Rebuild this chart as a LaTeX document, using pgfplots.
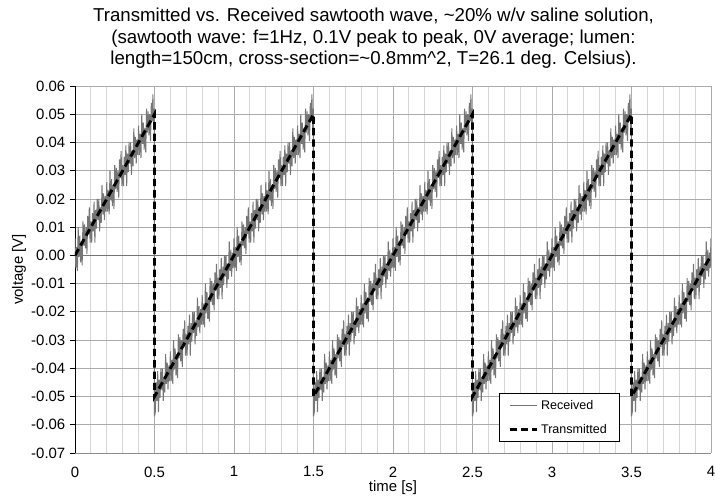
\documentclass[border=0pt]{standalone}
\usepackage{fontspec}
\setmainfont{Liberation Sans}
\usepackage{pgfplots}
\usepackage{pgfplotstable}
\pgfplotsset{compat=1.18}
\definecolor{rcv}{RGB}{118,118,118}
\pgfplotstableread[row sep=\\]{
t y\\
0 0.006\\ 0.005 -0.0045\\ 0.01 0.003\\ 0.015 -0.0055\\ 0.02 0.01\\ 0.025 -0.0005\\ 0.03 0.007\\ 0.035 -0.0025\\ 0.04 0.005\\ 0.045 -0.0035\\
0.05 0.012\\ 0.055 0.0035\\ 0.06 0.011\\ 0.065 0.0025\\ 0.07 0.01\\ 0.075 0.0005\\ 0.08 0.014\\ 0.085 0.0075\\ 0.09 0.017\\ 0.095 0.0045\\
0.1 0.012\\ 0.105 0.0045\\ 0.11 0.015\\ 0.115 0.0085\\ 0.12 0.019\\ 0.125 0.0045\\ 0.13 0.016\\ 0.135 0.0095\\ 0.14 0.02\\ 0.145 0.0125\\
0.15 0.02\\ 0.155 0.0085\\ 0.16 0.017\\ 0.165 0.0115\\ 0.17 0.025\\ 0.175 0.0145\\ 0.18 0.022\\ 0.185 0.0125\\ 0.19 0.021\\ 0.195 0.0155\\
0.2 0.026\\ 0.205 0.0155\\ 0.21 0.023\\ 0.215 0.0145\\ 0.22 0.03\\ 0.225 0.0195\\ 0.23 0.027\\ 0.235 0.0175\\ 0.24 0.025\\ 0.245 0.0165\\
0.25 0.032\\ 0.255 0.0235\\ 0.26 0.031\\ 0.265 0.0225\\ 0.27 0.03\\ 0.275 0.0205\\ 0.28 0.034\\ 0.285 0.0275\\ 0.29 0.037\\ 0.295 0.0245\\
0.3 0.032\\ 0.305 0.0245\\ 0.31 0.035\\ 0.315 0.0285\\ 0.32 0.039\\ 0.325 0.0245\\ 0.33 0.036\\ 0.335 0.0295\\ 0.34 0.04\\ 0.345 0.0325\\
0.35 0.04\\ 0.355 0.0285\\ 0.36 0.037\\ 0.365 0.0315\\ 0.37 0.045\\ 0.375 0.0345\\ 0.38 0.042\\ 0.385 0.0325\\ 0.39 0.041\\ 0.395 0.0355\\
0.4 0.046\\ 0.405 0.0355\\ 0.41 0.043\\ 0.415 0.0345\\ 0.42 0.05\\ 0.425 0.0395\\ 0.43 0.047\\ 0.435 0.0375\\ 0.44 0.045\\ 0.445 0.0365\\
0.45 0.052\\ 0.455 0.0435\\ 0.46 0.051\\ 0.465 0.0425\\ 0.47 0.05\\ 0.475 0.0405\\ 0.48 0.054\\ 0.485 0.0475\\ 0.49 0.057\\ 0.495 0.0445\\
0.5 0.052\\ 0.5 -0.057\\
0.505 -0.0555\\ 0.51 -0.045\\ 0.515 -0.0515\\ 0.52 -0.041\\ 0.525 -0.0555\\ 0.53 -0.044\\ 0.535 -0.0505\\ 0.54 -0.04\\ 0.545 -0.0475\\
0.55 -0.04\\ 0.555 -0.0515\\ 0.56 -0.043\\ 0.565 -0.0485\\ 0.57 -0.035\\ 0.575 -0.0455\\ 0.58 -0.038\\ 0.585 -0.0475\\ 0.59 -0.039\\ 0.595 -0.0445\\
0.6 -0.034\\ 0.605 -0.0445\\ 0.61 -0.037\\ 0.615 -0.0455\\ 0.62 -0.03\\ 0.625 -0.0405\\ 0.63 -0.033\\ 0.635 -0.0425\\ 0.64 -0.035\\ 0.645 -0.0435\\
0.65 -0.028\\ 0.655 -0.0365\\ 0.66 -0.029\\ 0.665 -0.0375\\ 0.67 -0.03\\ 0.675 -0.0395\\ 0.68 -0.026\\ 0.685 -0.0325\\ 0.69 -0.023\\ 0.695 -0.0355\\
0.7 -0.028\\ 0.705 -0.0355\\ 0.71 -0.025\\ 0.715 -0.0315\\ 0.72 -0.021\\ 0.725 -0.0355\\ 0.73 -0.024\\ 0.735 -0.0305\\ 0.74 -0.02\\ 0.745 -0.0275\\
0.75 -0.02\\ 0.755 -0.0315\\ 0.76 -0.023\\ 0.765 -0.0285\\ 0.77 -0.015\\ 0.775 -0.0255\\ 0.78 -0.018\\ 0.785 -0.0275\\ 0.79 -0.019\\ 0.795 -0.0245\\
0.8 -0.014\\ 0.805 -0.0245\\ 0.81 -0.017\\ 0.815 -0.0255\\ 0.82 -0.01\\ 0.825 -0.0205\\ 0.83 -0.013\\ 0.835 -0.0225\\ 0.84 -0.015\\ 0.845 -0.0235\\
0.85 -0.008\\ 0.855 -0.0165\\ 0.86 -0.009\\ 0.865 -0.0175\\ 0.87 -0.01\\ 0.875 -0.0195\\ 0.88 -0.006\\ 0.885 -0.0125\\ 0.89 -0.003\\ 0.895 -0.0155\\
0.9 -0.008\\ 0.905 -0.0155\\ 0.91 -0.005\\ 0.915 -0.0115\\ 0.92 -0.001\\ 0.925 -0.0155\\ 0.93 -0.004\\ 0.935 -0.0105\\ 0.94 0\\ 0.945 -0.0075\\
0.95 0\\ 0.955 -0.0115\\ 0.96 -0.003\\ 0.965 -0.0085\\ 0.97 0.005\\ 0.975 -0.0055\\ 0.98 0.002\\ 0.985 -0.0075\\ 0.99 0.001\\ 0.995 -0.0045\\
1 0.006\\ 1.005 -0.0045\\ 1.01 0.003\\ 1.015 -0.0055\\ 1.02 0.01\\ 1.025 -0.0005\\ 1.03 0.007\\ 1.035 -0.0025\\ 1.04 0.005\\ 1.045 -0.0035\\
1.05 0.012\\ 1.055 0.0035\\ 1.06 0.011\\ 1.065 0.0025\\ 1.07 0.01\\ 1.075 0.0005\\ 1.08 0.014\\ 1.085 0.0075\\ 1.09 0.017\\ 1.095 0.0045\\
1.1 0.012\\ 1.105 0.0045\\ 1.11 0.015\\ 1.115 0.0085\\ 1.12 0.019\\ 1.125 0.0045\\ 1.13 0.016\\ 1.135 0.0095\\ 1.14 0.02\\ 1.145 0.0125\\
1.15 0.02\\ 1.155 0.0085\\ 1.16 0.017\\ 1.165 0.0115\\ 1.17 0.025\\ 1.175 0.0145\\ 1.18 0.022\\ 1.185 0.0125\\ 1.19 0.021\\ 1.195 0.0155\\
1.2 0.026\\ 1.205 0.0155\\ 1.21 0.023\\ 1.215 0.0145\\ 1.22 0.03\\ 1.225 0.0195\\ 1.23 0.027\\ 1.235 0.0175\\ 1.24 0.025\\ 1.245 0.0165\\
1.25 0.032\\ 1.255 0.0235\\ 1.26 0.031\\ 1.265 0.0225\\ 1.27 0.03\\ 1.275 0.0205\\ 1.28 0.034\\ 1.285 0.0275\\ 1.29 0.037\\ 1.295 0.0245\\
1.3 0.032\\ 1.305 0.0245\\ 1.31 0.035\\ 1.315 0.0285\\ 1.32 0.039\\ 1.325 0.0245\\ 1.33 0.036\\ 1.335 0.0295\\ 1.34 0.04\\ 1.345 0.0325\\
1.35 0.04\\ 1.355 0.0285\\ 1.36 0.037\\ 1.365 0.0315\\ 1.37 0.045\\ 1.375 0.0345\\ 1.38 0.042\\ 1.385 0.0325\\ 1.39 0.041\\ 1.395 0.0355\\
1.4 0.046\\ 1.405 0.0355\\ 1.41 0.043\\ 1.415 0.0345\\ 1.42 0.05\\ 1.425 0.0395\\ 1.43 0.047\\ 1.435 0.0375\\ 1.44 0.045\\ 1.445 0.0365\\
1.45 0.052\\ 1.455 0.0435\\ 1.46 0.051\\ 1.465 0.0425\\ 1.47 0.05\\ 1.475 0.0405\\ 1.48 0.054\\ 1.485 0.0475\\ 1.49 0.057\\ 1.495 0.0445\\
1.5 0.052\\ 1.5 -0.057\\
1.505 -0.0555\\ 1.51 -0.045\\ 1.515 -0.0515\\ 1.52 -0.041\\ 1.525 -0.0555\\ 1.53 -0.044\\ 1.535 -0.0505\\ 1.54 -0.04\\ 1.545 -0.0475\\
1.55 -0.04\\ 1.555 -0.0515\\ 1.56 -0.043\\ 1.565 -0.0485\\ 1.57 -0.035\\ 1.575 -0.0455\\ 1.58 -0.038\\ 1.585 -0.0475\\ 1.59 -0.039\\ 1.595 -0.0445\\
1.6 -0.034\\ 1.605 -0.0445\\ 1.61 -0.037\\ 1.615 -0.0455\\ 1.62 -0.03\\ 1.625 -0.0405\\ 1.63 -0.033\\ 1.635 -0.0425\\ 1.64 -0.035\\ 1.645 -0.0435\\
1.65 -0.028\\ 1.655 -0.0365\\ 1.66 -0.029\\ 1.665 -0.0375\\ 1.67 -0.03\\ 1.675 -0.0395\\ 1.68 -0.026\\ 1.685 -0.0325\\ 1.69 -0.023\\ 1.695 -0.0355\\
1.7 -0.028\\ 1.705 -0.0355\\ 1.71 -0.025\\ 1.715 -0.0315\\ 1.72 -0.021\\ 1.725 -0.0355\\ 1.73 -0.024\\ 1.735 -0.0305\\ 1.74 -0.02\\ 1.745 -0.0275\\
1.75 -0.02\\ 1.755 -0.0315\\ 1.76 -0.023\\ 1.765 -0.0285\\ 1.77 -0.015\\ 1.775 -0.0255\\ 1.78 -0.018\\ 1.785 -0.0275\\ 1.79 -0.019\\ 1.795 -0.0245\\
1.8 -0.014\\ 1.805 -0.0245\\ 1.81 -0.017\\ 1.815 -0.0255\\ 1.82 -0.01\\ 1.825 -0.0205\\ 1.83 -0.013\\ 1.835 -0.0225\\ 1.84 -0.015\\ 1.845 -0.0235\\
1.85 -0.008\\ 1.855 -0.0165\\ 1.86 -0.009\\ 1.865 -0.0175\\ 1.87 -0.01\\ 1.875 -0.0195\\ 1.88 -0.006\\ 1.885 -0.0125\\ 1.89 -0.003\\ 1.895 -0.0155\\
1.9 -0.008\\ 1.905 -0.0155\\ 1.91 -0.005\\ 1.915 -0.0115\\ 1.92 -0.001\\ 1.925 -0.0155\\ 1.93 -0.004\\ 1.935 -0.0105\\ 1.94 0\\ 1.945 -0.0075\\
1.95 0\\ 1.955 -0.0115\\ 1.96 -0.003\\ 1.965 -0.0085\\ 1.97 0.005\\ 1.975 -0.0055\\ 1.98 0.002\\ 1.985 -0.0075\\ 1.99 0.001\\ 1.995 -0.0045\\
2 0.006\\ 2.005 -0.0045\\ 2.01 0.003\\ 2.015 -0.0055\\ 2.02 0.01\\ 2.025 -0.0005\\ 2.03 0.007\\ 2.035 -0.0025\\ 2.04 0.005\\ 2.045 -0.0035\\
2.05 0.012\\ 2.055 0.0035\\ 2.06 0.011\\ 2.065 0.0025\\ 2.07 0.01\\ 2.075 0.0005\\ 2.08 0.014\\ 2.085 0.0075\\ 2.09 0.017\\ 2.095 0.0045\\
2.1 0.012\\ 2.105 0.0045\\ 2.11 0.015\\ 2.115 0.0085\\ 2.12 0.019\\ 2.125 0.0045\\ 2.13 0.016\\ 2.135 0.0095\\ 2.14 0.02\\ 2.145 0.0125\\
2.15 0.02\\ 2.155 0.0085\\ 2.16 0.017\\ 2.165 0.0115\\ 2.17 0.025\\ 2.175 0.0145\\ 2.18 0.022\\ 2.185 0.0125\\ 2.19 0.021\\ 2.195 0.0155\\
2.2 0.026\\ 2.205 0.0155\\ 2.21 0.023\\ 2.215 0.0145\\ 2.22 0.03\\ 2.225 0.0195\\ 2.23 0.027\\ 2.235 0.0175\\ 2.24 0.025\\ 2.245 0.0165\\
2.25 0.032\\ 2.255 0.0235\\ 2.26 0.031\\ 2.265 0.0225\\ 2.27 0.03\\ 2.275 0.0205\\ 2.28 0.034\\ 2.285 0.0275\\ 2.29 0.037\\ 2.295 0.0245\\
2.3 0.032\\ 2.305 0.0245\\ 2.31 0.035\\ 2.315 0.0285\\ 2.32 0.039\\ 2.325 0.0245\\ 2.33 0.036\\ 2.335 0.0295\\ 2.34 0.04\\ 2.345 0.0325\\
2.35 0.04\\ 2.355 0.0285\\ 2.36 0.037\\ 2.365 0.0315\\ 2.37 0.045\\ 2.375 0.0345\\ 2.38 0.042\\ 2.385 0.0325\\ 2.39 0.041\\ 2.395 0.0355\\
2.4 0.046\\ 2.405 0.0355\\ 2.41 0.043\\ 2.415 0.0345\\ 2.42 0.05\\ 2.425 0.0395\\ 2.43 0.047\\ 2.435 0.0375\\ 2.44 0.045\\ 2.445 0.0365\\
2.45 0.052\\ 2.455 0.0435\\ 2.46 0.051\\ 2.465 0.0425\\ 2.47 0.05\\ 2.475 0.0405\\ 2.48 0.054\\ 2.485 0.0475\\ 2.49 0.057\\ 2.495 0.0445\\
2.5 0.052\\ 2.5 -0.057\\
2.505 -0.0555\\ 2.51 -0.045\\ 2.515 -0.0515\\ 2.52 -0.041\\ 2.525 -0.0555\\ 2.53 -0.044\\ 2.535 -0.0505\\ 2.54 -0.04\\ 2.545 -0.0475\\
2.55 -0.04\\ 2.555 -0.0515\\ 2.56 -0.043\\ 2.565 -0.0485\\ 2.57 -0.035\\ 2.575 -0.0455\\ 2.58 -0.038\\ 2.585 -0.0475\\ 2.59 -0.039\\ 2.595 -0.0445\\
2.6 -0.034\\ 2.605 -0.0445\\ 2.61 -0.037\\ 2.615 -0.0455\\ 2.62 -0.03\\ 2.625 -0.0405\\ 2.63 -0.033\\ 2.635 -0.0425\\ 2.64 -0.035\\ 2.645 -0.0435\\
2.65 -0.028\\ 2.655 -0.0365\\ 2.66 -0.029\\ 2.665 -0.0375\\ 2.67 -0.03\\ 2.675 -0.0395\\ 2.68 -0.026\\ 2.685 -0.0325\\ 2.69 -0.023\\ 2.695 -0.0355\\
2.7 -0.028\\ 2.705 -0.0355\\ 2.71 -0.025\\ 2.715 -0.0315\\ 2.72 -0.021\\ 2.725 -0.0355\\ 2.73 -0.024\\ 2.735 -0.0305\\ 2.74 -0.02\\ 2.745 -0.0275\\
2.75 -0.02\\ 2.755 -0.0315\\ 2.76 -0.023\\ 2.765 -0.0285\\ 2.77 -0.015\\ 2.775 -0.0255\\ 2.78 -0.018\\ 2.785 -0.0275\\ 2.79 -0.019\\ 2.795 -0.0245\\
2.8 -0.014\\ 2.805 -0.0245\\ 2.81 -0.017\\ 2.815 -0.0255\\ 2.82 -0.01\\ 2.825 -0.0205\\ 2.83 -0.013\\ 2.835 -0.0225\\ 2.84 -0.015\\ 2.845 -0.0235\\
2.85 -0.008\\ 2.855 -0.0165\\ 2.86 -0.009\\ 2.865 -0.0175\\ 2.87 -0.01\\ 2.875 -0.0195\\ 2.88 -0.006\\ 2.885 -0.0125\\ 2.89 -0.003\\ 2.895 -0.0155\\
2.9 -0.008\\ 2.905 -0.0155\\ 2.91 -0.005\\ 2.915 -0.0115\\ 2.92 -0.001\\ 2.925 -0.0155\\ 2.93 -0.004\\ 2.935 -0.0105\\ 2.94 0\\ 2.945 -0.0075\\
2.95 0\\ 2.955 -0.0115\\ 2.96 -0.003\\ 2.965 -0.0085\\ 2.97 0.005\\ 2.975 -0.0055\\ 2.98 0.002\\ 2.985 -0.0075\\ 2.99 0.001\\ 2.995 -0.0045\\
3 0.006\\ 3.005 -0.0045\\ 3.01 0.003\\ 3.015 -0.0055\\ 3.02 0.01\\ 3.025 -0.0005\\ 3.03 0.007\\ 3.035 -0.0025\\ 3.04 0.005\\ 3.045 -0.0035\\
3.05 0.012\\ 3.055 0.0035\\ 3.06 0.011\\ 3.065 0.0025\\ 3.07 0.01\\ 3.075 0.0005\\ 3.08 0.014\\ 3.085 0.0075\\ 3.09 0.017\\ 3.095 0.0045\\
3.1 0.012\\ 3.105 0.0045\\ 3.11 0.015\\ 3.115 0.0085\\ 3.12 0.019\\ 3.125 0.0045\\ 3.13 0.016\\ 3.135 0.0095\\ 3.14 0.02\\ 3.145 0.0125\\
3.15 0.02\\ 3.155 0.0085\\ 3.16 0.017\\ 3.165 0.0115\\ 3.17 0.025\\ 3.175 0.0145\\ 3.18 0.022\\ 3.185 0.0125\\ 3.19 0.021\\ 3.195 0.0155\\
3.2 0.026\\ 3.205 0.0155\\ 3.21 0.023\\ 3.215 0.0145\\ 3.22 0.03\\ 3.225 0.0195\\ 3.23 0.027\\ 3.235 0.0175\\ 3.24 0.025\\ 3.245 0.0165\\
3.25 0.032\\ 3.255 0.0235\\ 3.26 0.031\\ 3.265 0.0225\\ 3.27 0.03\\ 3.275 0.0205\\ 3.28 0.034\\ 3.285 0.0275\\ 3.29 0.037\\ 3.295 0.0245\\
3.3 0.032\\ 3.305 0.0245\\ 3.31 0.035\\ 3.315 0.0285\\ 3.32 0.039\\ 3.325 0.0245\\ 3.33 0.036\\ 3.335 0.0295\\ 3.34 0.04\\ 3.345 0.0325\\
3.35 0.04\\ 3.355 0.0285\\ 3.36 0.037\\ 3.365 0.0315\\ 3.37 0.045\\ 3.375 0.0345\\ 3.38 0.042\\ 3.385 0.0325\\ 3.39 0.041\\ 3.395 0.0355\\
3.4 0.046\\ 3.405 0.0355\\ 3.41 0.043\\ 3.415 0.0345\\ 3.42 0.05\\ 3.425 0.0395\\ 3.43 0.047\\ 3.435 0.0375\\ 3.44 0.045\\ 3.445 0.0365\\
3.45 0.052\\ 3.455 0.0435\\ 3.46 0.051\\ 3.465 0.0425\\ 3.47 0.05\\ 3.475 0.0405\\ 3.48 0.054\\ 3.485 0.0475\\ 3.49 0.057\\ 3.495 0.0445\\
3.5 0.052\\ 3.5 -0.057\\
3.505 -0.0555\\ 3.51 -0.045\\ 3.515 -0.0515\\ 3.52 -0.041\\ 3.525 -0.0555\\ 3.53 -0.044\\ 3.535 -0.0505\\ 3.54 -0.04\\ 3.545 -0.0475\\
3.55 -0.04\\ 3.555 -0.0515\\ 3.56 -0.043\\ 3.565 -0.0485\\ 3.57 -0.035\\ 3.575 -0.0455\\ 3.58 -0.038\\ 3.585 -0.0475\\ 3.59 -0.039\\ 3.595 -0.0445\\
3.6 -0.034\\ 3.605 -0.0445\\ 3.61 -0.037\\ 3.615 -0.0455\\ 3.62 -0.03\\ 3.625 -0.0405\\ 3.63 -0.033\\ 3.635 -0.0425\\ 3.64 -0.035\\ 3.645 -0.0435\\
3.65 -0.028\\ 3.655 -0.0365\\ 3.66 -0.029\\ 3.665 -0.0375\\ 3.67 -0.03\\ 3.675 -0.0395\\ 3.68 -0.026\\ 3.685 -0.0325\\ 3.69 -0.023\\ 3.695 -0.0355\\
3.7 -0.028\\ 3.705 -0.0355\\ 3.71 -0.025\\ 3.715 -0.0315\\ 3.72 -0.021\\ 3.725 -0.0355\\ 3.73 -0.024\\ 3.735 -0.0305\\ 3.74 -0.02\\ 3.745 -0.0275\\
3.75 -0.02\\ 3.755 -0.0315\\ 3.76 -0.023\\ 3.765 -0.0285\\ 3.77 -0.015\\ 3.775 -0.0255\\ 3.78 -0.018\\ 3.785 -0.0275\\ 3.79 -0.019\\ 3.795 -0.0245\\
3.8 -0.014\\ 3.805 -0.0245\\ 3.81 -0.017\\ 3.815 -0.0255\\ 3.82 -0.01\\ 3.825 -0.0205\\ 3.83 -0.013\\ 3.835 -0.0225\\ 3.84 -0.015\\ 3.845 -0.0235\\
3.85 -0.008\\ 3.855 -0.0165\\ 3.86 -0.009\\ 3.865 -0.0175\\ 3.87 -0.01\\ 3.875 -0.0195\\ 3.88 -0.006\\ 3.885 -0.0125\\ 3.89 -0.003\\ 3.895 -0.0155\\
3.9 -0.008\\ 3.905 -0.0155\\ 3.91 -0.005\\ 3.915 -0.0115\\ 3.92 -0.001\\ 3.925 -0.0155\\ 3.93 -0.004\\ 3.935 -0.0105\\ 3.94 0\\ 3.945 -0.0075\\
3.95 0\\ 3.955 -0.0115\\ 3.96 -0.003\\ 3.965 -0.0085\\ 3.97 0.005\\ 3.975 -0.0055\\ 3.98 0.002\\ 3.985 -0.0075\\ 3.99 0.001\\ 3.995 -0.0045\\
4 0.006\\
}\received
\pgfplotstableread[row sep=\\]{
t y\\
0 0\\ 0.5 0.05\\ 0.5 -0.05\\ 1.5 0.05\\ 1.5 -0.05\\ 2.5 0.05\\ 2.5 -0.05\\ 3.5 0.05\\ 3.5 -0.05\\ 4 0\\
}\transmitted
\pgfplotsset{every axis title/.style={at={(0.5,1)}, anchor=south, align=center, inner sep=0pt,
  xshift=-14.6pt, yshift=12.8pt, font=\fontsize{14}{16.1}\selectfont}}
\begin{document}
\begin{tikzpicture}
\begin{axis}[
  scale only axis, width=477pt, height=275.25pt,
  xmin=0, xmax=4, ymin=-0.07, ymax=0.06,
  xtick={0,0.5,1,1.5,2,2.5,3,3.5,4},
  minor x tick num=4,
  ytick={-0.07,-0.06,-0.05,-0.04,-0.03,-0.02,-0.01,0,0.01,0.02,0.03,0.04,0.05,0.06},
  scaled y ticks=false, scaled x ticks=false,
  xticklabel style={/pgf/number format/.cd, fixed, assume math mode=true, /tikz/yshift=-3pt},
  yticklabel style={/pgf/number format/.cd, fixed, fixed zerofill, precision=2, assume math mode=true},
  tick label style={font=\fontsize{11.2}{13}\selectfont},
  grid=both,
  major grid style={color=black!33, line width=0.6pt},
  minor grid style={color=black!16, line width=0.6pt},
  axis x line*=bottom, axis y line*=left,
  x axis line style={color=black!45, line width=0.6pt},
  y axis line style={color=black, line width=0.6pt},
  tick align=outside,
  x tick style={draw=none},
  y tick style={color=black, line width=0.6pt},
  major tick length=3.75pt,
  extra y ticks={0}, extra y tick labels={},
  extra y tick style={grid=major, major grid style={color=black!55, line width=0.8pt}},
  title={Transmitted vs. Received sawtooth wave, \textasciitilde20\% w/v saline solution,\\(sawtooth wave: f=1Hz, 0.1V peak to peak, 0V average; lumen:\\length=150cm, cross-section=\textasciitilde0.8mm\textasciicircum2, T=26.1 deg. Celsius).},
  xlabel={time [s]}, ylabel={voltage [V]},
  label style={font=\fontsize{11.2}{13}\selectfont},
  xlabel style={at={(axis description cs:0.5,-0.0954)}, anchor=center},
  ylabel style={at={(axis description cs:-0.088,0.5)}, anchor=center},
  legend style={at={(0.666,0.03)}, anchor=south west, draw=black, fill=white,
    font=\fontsize{9.4}{11}\selectfont, row sep=5.5pt, inner xsep=7pt, inner ysep=3pt},
  legend cell align=left,
  legend image code/.code={\draw[#1] (0cm,0cm) -- (0.72cm,0cm);},
]
\addplot[color=rcv, line width=0.75pt] table[x=t, y=y] {\received};
\addlegendentry{Received}
\addplot[color=black, line width=2.2pt, dash pattern=on 5.5pt off 3pt] table[x=t, y=y] {\transmitted};
\addlegendentry{Transmitted}
\end{axis}
\pgfresetboundingbox
\path[use as bounding box] (-56.25pt,-33pt) rectangle (480pt,339.75pt);
\end{tikzpicture}
\end{document}
